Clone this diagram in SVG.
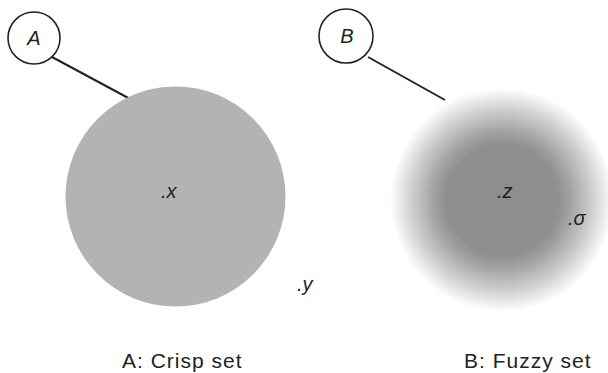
<svg xmlns="http://www.w3.org/2000/svg" width="608" height="373" viewBox="0 0 608 373">
<style>
.lbl{font-family:"Liberation Sans",Arial,sans-serif;font-size:21px;letter-spacing:1px;fill:#222}
.it{font-family:"Liberation Sans",Arial,sans-serif;font-size:20px;font-style:italic;fill:#222}
.ring{fill:#fff;stroke:#222;stroke-width:1.6}
.conn{stroke:#222;stroke-width:2;fill:none}
</style>
<defs>
<radialGradient id="fz" cx="0.5" cy="0.5" r="0.5">
<stop offset="0" stop-color="#8e8e8e"/>
<stop offset="0.5" stop-color="#8f8f8f"/>
<stop offset="0.6" stop-color="#a0a0a0"/>
<stop offset="0.8" stop-color="#cdcdcd"/>
<stop offset="1" stop-color="#ffffff"/>
</radialGradient>
</defs>
<rect width="608" height="373" fill="#fff"/>
<g id="connectors">
<line class="conn" x1="52" y1="57" x2="132" y2="100"/>
<line class="conn" x1="368" y1="57" x2="445" y2="100"/>
</g>
<g id="setA">
<circle cx="175.5" cy="196.5" r="110" fill="#b3b3b3"/>
<text class="it" x="161" y="198">.x</text>
<text class="it" x="297" y="291">.y</text>
</g>
<g id="setB">
<circle cx="502" cy="200" r="112" fill="url(#fz)"/>
<text class="it" x="497" y="198">.z</text>
<text class="it" x="568" y="225">.σ</text>
</g>
<g id="nodeA">
<circle class="ring" cx="34" cy="38" r="26"/>
<text class="it" x="34" y="45" text-anchor="middle" font-size="21">A</text>
</g>
<g id="nodeB">
<circle class="ring" cx="346" cy="36" r="27"/>
<text class="it" x="347" y="43" text-anchor="middle" font-size="21">B</text>
</g>
<text class="lbl" x="122" y="368">A: Crisp set</text>
<text class="lbl" x="464" y="368">B: Fuzzy set</text>
</svg>
